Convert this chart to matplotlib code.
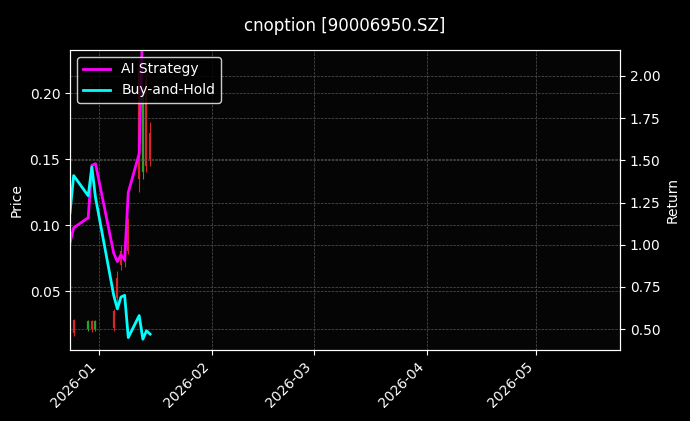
import matplotlib
matplotlib.use("Agg")
import matplotlib.pyplot as plt
import matplotlib.dates as mdates
from matplotlib.ticker import MultipleLocator, FormatStrFormatter
import pandas as pd

c_dates = ["2025-12-25","2025-12-29","2025-12-30","2025-12-31","2026-01-05","2026-01-06","2026-01-07",
           "2026-01-08","2026-01-09","2026-01-12","2026-01-13","2026-01-14","2026-01-15"]
c_open  = [0.028,0.021,0.027,0.021,0.035,0.060,0.080,0.082,0.100,0.220,0.140,0.210,0.170]
c_close = [0.018,0.027,0.021,0.027,0.022,0.045,0.070,0.072,0.080,0.135,0.200,0.145,0.150]
c_high  = [0.029,0.028,0.028,0.028,0.036,0.065,0.085,0.085,0.105,0.225,0.205,0.215,0.178]
c_low   = [0.016,0.020,0.019,0.020,0.020,0.040,0.066,0.068,0.078,0.125,0.135,0.140,0.145]

ai_dates = ["2025-12-24","2025-12-25","2025-12-29","2025-12-30","2025-12-31","2026-01-05","2026-01-06",
            "2026-01-07","2026-01-08","2026-01-09","2026-01-12","2026-01-13"]
ai_ret = [1.01,1.10,1.16,1.47,1.48,0.95,0.90,0.94,0.91,1.31,1.54,2.35]
bh_dates = ["2025-12-24","2025-12-25","2025-12-29","2025-12-30","2025-12-31","2026-01-05","2026-01-06",
            "2026-01-07","2026-01-08","2026-01-09","2026-01-12","2026-01-13","2026-01-14","2026-01-15"]
bh_ret = [1.19,1.41,1.29,1.46,1.28,0.70,0.62,0.69,0.70,0.45,0.58,0.44,0.49,0.47]

cd = pd.to_datetime(c_dates)
fig = plt.figure(figsize=(6.9,4.21), dpi=100, facecolor="black")
ax = fig.add_axes([70/690, 1-350/421, 550/690, 300/421], facecolor="#050505")
for d,o,c,h,l in zip(cd,c_open,c_close,c_high,c_low):
    col = "#2ca02c" if c >= o else "#d62728"
    ax.vlines(d, l, h, color=col, lw=0.8)
    ax.vlines(d, min(o,c), max(o,c), color=col, lw=1.6)
ax.set_ylim(0.0053, 0.2326)
ax.set_xlim(pd.Timestamp("2025-12-24"), pd.Timestamp("2026-05-24"))
ax.set_ylabel("Price", color="white")
ax.grid(True, color="#555555", ls="--", lw=0.5)
ax.xaxis.set_major_locator(mdates.MonthLocator())
ax.xaxis.set_major_formatter(mdates.DateFormatter("%Y-%m"))
ax2 = ax.twinx()
l1, = ax2.plot(pd.to_datetime(ai_dates), ai_ret, color="#ff00ff", lw=2, label="AI Strategy")
l2, = ax2.plot(pd.to_datetime(bh_dates), bh_ret, color="#00ffff", lw=2, label="Buy-and-Hold")
ax2.set_ylim(0.376, 2.154)
ax2.yaxis.set_major_locator(MultipleLocator(0.25))
ax2.yaxis.set_major_formatter(FormatStrFormatter("%.2f"))
ax2.grid(True, axis="y", color="#555555", ls="--", lw=0.5)
ax2.set_ylabel("Return", color="white")
for a in (ax, ax2):
    a.tick_params(colors="white")
    for s in a.spines.values():
        s.set_color("white")
for t in ax.get_xticklabels():
    t.set_rotation(45); t.set_ha("right")
leg = ax2.legend(handles=[l1,l2], loc="upper left", facecolor="black", edgecolor="white", labelcolor="white")
fig.suptitle("cnoption [90006950.SZ]", color="white", y=0.96)
fig.savefig("out.png", facecolor="black")
